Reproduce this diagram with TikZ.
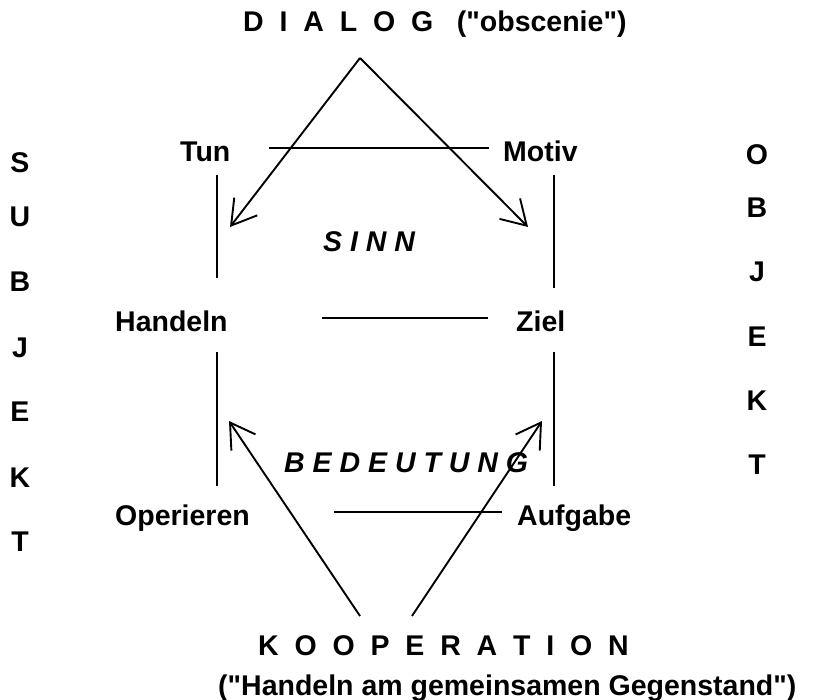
\documentclass[tikz,border=0pt]{standalone}
\usepackage{fontspec}
\setmainfont{Liberation Sans}
\usetikzlibrary{arrows.meta}
\begin{document}
\begin{tikzpicture}[x=1pt,y=-1pt,
  lbl/.style={font=\fontsize{28.5}{30}\selectfont\bfseries, inner sep=0pt, anchor=base west},
  side/.style={font=\fontsize{28.5}{30}\selectfont\bfseries, inner sep=0pt, anchor=base},
  ital/.style={lbl, font=\fontsize{28.5}{30}\selectfont\bfseries\itshape},
  ln/.style={line width=1.9pt},
  arr/.style={line width=1.9pt, -{Straight Barb[length=24pt,width=29pt]}}]
\useasboundingbox (0,0) rectangle (816,700);
% texts
\node[lbl] (dialog) at (243,32) {D\ \ I\ \ A\ \ L\ \ O\ \ G\ \ \ (\textquotedbl obscenie\textquotedbl)};
\node[lbl] (tun) at (180,162) {Tun};
\node[lbl] (motiv) at (503,162) {Motiv};
\node[ital] (sinn) at (323,252) {S I N N};
\node[lbl] (handeln) at (115,332) {Handeln};
\node[lbl] (ziel) at (516,332) {Ziel};
\node[ital] (bed) at (284,472) {B E D E U T U N G};
\node[lbl] (oper) at (115,525) {Operieren};
\node[lbl] (aufg) at (517,525) {Aufgabe};
\node[lbl] (koop) at (258,655) {K\ \ O\ \ O\ \ P\ \ E\ \ R\ \ A\ \ T\ \ I\ \ O\ \ N};
\node[lbl] (koopsub) at (218,695) {(\textquotedbl Handeln am gemeinsamen Gegenstand\textquotedbl)};
% SUBJEKT
\node[side] (s1) at (20,173) {S};
\node[side] (s2) at (20,227) {U};
\node[side] (s3) at (20,292) {B};
\node[side] (s4) at (20,357) {J};
\node[side] (s5) at (20,421) {E};
\node[side] (s6) at (20,487) {K};
\node[side] (s7) at (20,551) {T};
% OBJEKT
\node[side] (o1) at (757,165) {O};
\node[side] (o2) at (757,218) {B};
\node[side] (o3) at (757,282) {J};
\node[side] (o4) at (757,346) {E};
\node[side] (o5) at (757,410) {K};
\node[side] (o6) at (757,474) {T};
% connector points
\coordinate (apex) at (360,58);
\coordinate (tipTun) at (230,227);
\coordinate (tipMotiv) at (528,227);
\coordinate (tmA) at (269,148);
\coordinate (tmB) at (489,148);
\coordinate (thA) at (217,175);
\coordinate (thB) at (217,278);
\coordinate (mzA) at (554,175);
\coordinate (mzB) at (554,288);
\coordinate (hzA) at (322,318);
\coordinate (hzB) at (488,318);
\coordinate (hoA) at (217,352);
\coordinate (hoB) at (217,486);
\coordinate (zaA) at (554,352);
\coordinate (zaB) at (554,486);
\coordinate (oaA) at (334,512);
\coordinate (oaB) at (502,512);
\coordinate (kL) at (360,616);
\coordinate (kR) at (412,616);
\coordinate (tipH) at (229,421);
\coordinate (tipZ) at (542,421);
% lines
\draw[ln] (tmA) -- (tmB);
\draw[ln] (thA) -- (thB);
\draw[ln] (mzA) -- (mzB);
\draw[ln] (hzA) -- (hzB);
\draw[ln] (hoA) -- (hoB);
\draw[ln] (zaA) -- (zaB);
\draw[ln] (oaA) -- (oaB);
% arrows
\draw[arr] (apex) -- (tipTun);
\draw[arr] (apex) -- (tipMotiv);
\draw[arr] (kL) -- (tipH);
\draw[arr] (kR) -- (tipZ);
\end{tikzpicture}
\end{document}
